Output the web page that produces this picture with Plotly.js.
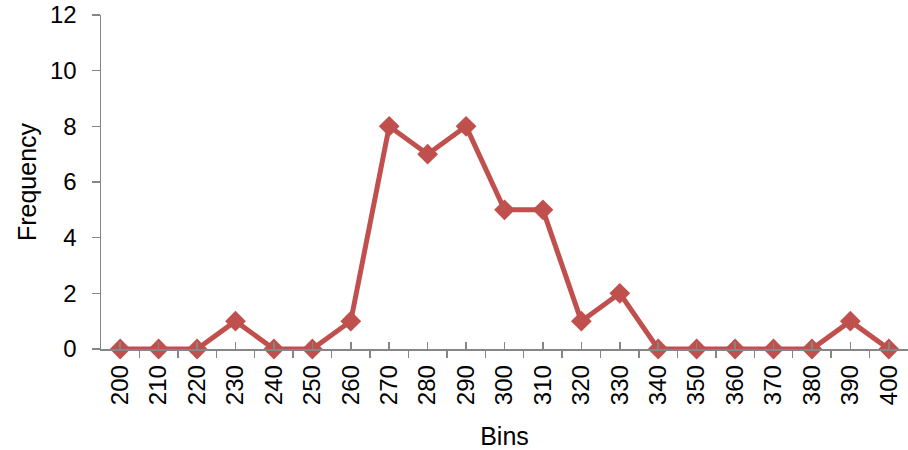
<!DOCTYPE html>
<html>
<head>
<meta charset="utf-8">
<script src="https://cdn.plot.ly/plotly-3.0.1.min.js"></script>
<style>html,body{margin:0;padding:0;background:#fff}#chart{width:908px;height:450px}</style>
</head>
<body>
<div id="chart"></div>
<script>
const bins = [200,210,220,230,240,250,260,270,280,290,300,310,320,330,340,350,360,370,380,390,400];
const frequency = [0,0,0,1,0,0,1,8,7,8,5,5,1,2,0,0,0,0,0,1,0];
const binLabels = bins.map(String);
const xTitle = 'Bins';
const yTitle = 'Frequency';

const axisColor = '#868686';
const fontFamily = 'Liberation Sans, Arial, sans-serif';

Plotly.newPlot('chart', [{
  x: bins,
  y: frequency,
  type: 'scatter',
  mode: 'lines+markers',
  line: {color: '#C0504D', width: 5},
  marker: {symbol: 'diamond', size: 16, color: '#C0504D'},
  cliponaxis: false,
  hoverinfo: 'none'
}], {
  width: 908, height: 450,
  margin: {l: 101, r: 0, t: 15, b: 101},
  paper_bgcolor: '#fff', plot_bgcolor: '#fff',
  showlegend: false,
  font: {family: fontFamily, size: 24, color: '#000'},
  xaxis: {
    range: [195, 405],
    tickvals: bins, ticktext: binLabels,
    tickangle: -90,
    ticks: 'inside', ticklen: 7, tickcolor: axisColor, tickwidth: 1.5,
    minor: {tick0: 195, dtick: 10, ticks: 'outside', ticklen: 7, tickcolor: axisColor, tickwidth: 1.5, showgrid: false},
    showline: true, linecolor: axisColor, linewidth: 1.5,
    showgrid: false, zeroline: false,
    tickfont: {size: 24},
    ticklabelstandoff: 5,
    title: {text: xTitle, font: {size: 25}, standoff: 24},
    automargin: false
  },
  yaxis: {
    range: [0, 12], dtick: 2,
    ticks: 'outside', ticklen: 8, tickcolor: axisColor, tickwidth: 1.5,
    showline: true, linecolor: axisColor, linewidth: 1.5,
    showgrid: false, zeroline: false,
    tickfont: {size: 24},
    ticklabelstandoff: 10,
    title: {text: yTitle, font: {size: 25}, standoff: 6},
    automargin: false
  }
}, {staticPlot: true});
</script>
</body>
</html>
